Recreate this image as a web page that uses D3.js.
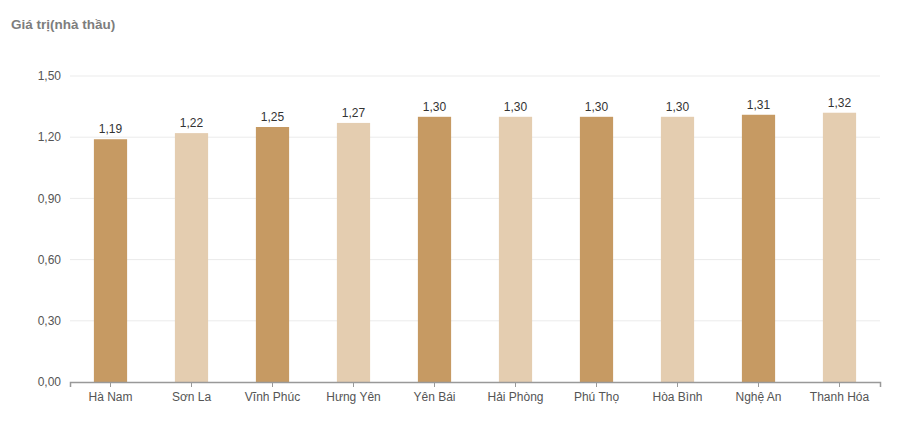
<!DOCTYPE html>
<html>
<head>
<meta charset="utf-8">
<script src="https://cdn.jsdelivr.net/npm/d3@7"></script>
<style>
  body { margin: 0; background: #fff; }
  svg { display: block; font-family: "Helvetica Neue", "Liberation Sans", Arial, sans-serif; }
</style>
</head>
<body>
<svg id="chart" width="900" height="426"></svg>
<script>
// provinces and values (nghìn tỷ? -> "Giá trị(nhà thầu)")
var categories = ["Hà Nam", "Sơn La", "Vĩnh Phúc", "Hưng Yên", "Yên Bái", "Hải Phòng", "Phú Thọ", "Hòa Bình", "Nghệ An", "Thanh Hóa"];
var values = [1.19, 1.22, 1.25, 1.27, 1.30, 1.30, 1.30, 1.30, 1.31, 1.32];
var yTicks = [0, 0.3, 0.6, 0.9, 1.2, 1.5];
var barColors = ["#c69a63", "#e4cdb0"];

var svg = d3.select("#chart");
var margin = { top: 76, right: 20, bottom: 44, left: 70 };
var width = 900 - margin.left - margin.right;
var height = 426 - margin.top - margin.bottom;

var fmt = function (d) { return d3.format(".2f")(d).replace(".", ","); };

var x = d3.scaleBand().domain(categories).range([0, width]).paddingInner(0.59).paddingOuter(0.295);
var y = d3.scaleLinear().domain([0, 1.5]).range([height, 0]);

svg.append("text")
    .attr("x", 11)
    .attr("y", 29)
    .attr("fill", "#7d7d7d")
    .attr("font-size", 13.5)
    .attr("font-weight", "bold")
    .text("Giá trị(nhà thầu)");

var g = svg.append("g").attr("transform", "translate(" + margin.left + "," + margin.top + ")");

// gridlines
g.selectAll(".grid")
    .data(yTicks.slice(1))
    .enter().append("line")
    .attr("x1", 0)
    .attr("x2", width)
    .attr("y1", function (d) { return y(d); })
    .attr("y2", function (d) { return y(d); })
    .attr("stroke", "#ebebeb")
    .attr("stroke-width", 1);

// y labels
g.selectAll(".ylab")
    .data(yTicks)
    .enter().append("text")
    .attr("x", -9)
    .attr("y", function (d) { return y(d); })
    .attr("dy", "0.35em")
    .attr("text-anchor", "end")
    .attr("font-size", 12)
    .attr("fill", "#555")
    .text(fmt);

// bars
g.selectAll(".bar")
    .data(values)
    .enter().append("rect")
    .attr("x", function (d, i) { return x(categories[i]); })
    .attr("y", function (d) { return y(d); })
    .attr("width", x.bandwidth())
    .attr("height", function (d) { return height - y(d); })
    .attr("fill", function (d, i) { return barColors[i % 2]; });

// value labels
g.selectAll(".val")
    .data(values)
    .enter().append("text")
    .attr("x", function (d, i) { return x(categories[i]) + x.bandwidth() / 2; })
    .attr("y", function (d) { return y(d) - 6; })
    .attr("text-anchor", "middle")
    .attr("font-size", 12)
    .attr("fill", "#333")
    .text(fmt);

// x axis
var xAxis = g.append("g")
    .attr("transform", "translate(0," + height + ")")
    .call(d3.axisBottom(x).tickSize(5).tickPadding(5));
xAxis.select(".domain").attr("stroke", "#999").attr("stroke-width", 1.5);
xAxis.selectAll(".tick line").attr("stroke", "#999");
xAxis.selectAll(".tick text")
    .attr("font-size", 12)
    .attr("fill", "#555")
    .attr("font-family", "\"Helvetica Neue\", \"Liberation Sans\", Arial, sans-serif");
</script>
</body>
</html>
